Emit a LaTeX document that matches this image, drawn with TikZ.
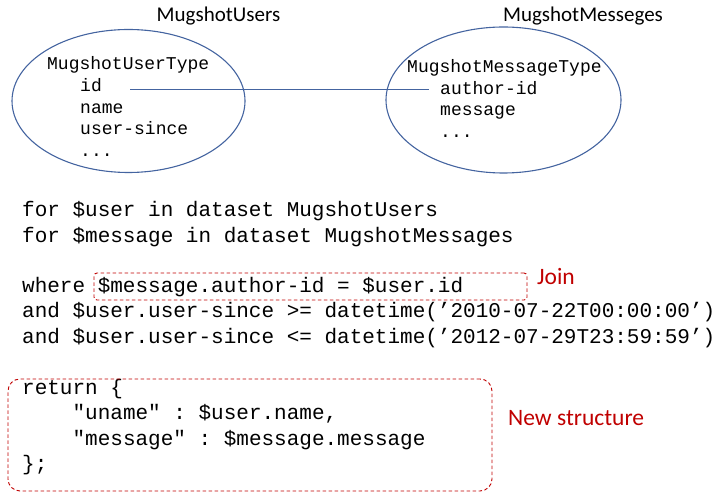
\documentclass[tikz,border=0pt]{standalone}
\usepackage{fontspec}
\setmainfont{Carlito}
\setmonofont{Liberation Mono}
\usetikzlibrary{shapes.geometric,calc}
\definecolor{ellblue}{RGB}{68,100,160}
\definecolor{darkred}{RGB}{192,0,0}
\begin{document}
\begin{tikzpicture}[x=1pt,y=-1pt,
  ell/.style={draw=ellblue,line width=1.1pt,ellipse,inner sep=0pt},
  title/.style={font=\fontsize{21}{25}\selectfont,anchor=base,inner sep=0pt},
  small/.style={font=\ttfamily\fontsize{18}{21}\selectfont,anchor=base west,inner sep=0pt},
  code/.style={font=\ttfamily\fontsize{21}{25}\selectfont,anchor=base west,inner sep=0pt},
  note/.style={font=\fontsize{23.5}{28}\selectfont,text=darkred,anchor=base west,inner sep=0pt},
  dbox/.style={draw=darkred,line width=0.9pt,dash pattern=on 3.5pt off 2.5pt,inner sep=0pt},
  link/.style={draw=ellblue,line width=1.1pt}]
\useasboundingbox (0,0) rectangle (724,502);
% ellipses
\node[ell,minimum width=233,minimum height=143] (users) at (128.5,101) {};
\node[ell,minimum width=235,minimum height=146] (msgs) at (503.5,100) {};
\node[title] (tu) at (218.5,22) {MugshotUsers};
\node[title] (tm) at (583,22) {MugshotMesseges};
% left contents
\node[small] (ut) at (47,70) {MugshotUserType};
\node[small] (id) at (80,92) {id};
\node[small] (nm) at (80,113.5) {name};
\node[small] (us) at (80,135) {user-since};
\node[small] (ud) at (80,156.5) {...};
% right contents
\node[small] (mt) at (407,73) {MugshotMessageType};
\node[small] (aid) at (440,94.5) {author-id};
\node[small] (mm) at (440,116) {message};
\node[small] (md) at (440,137.5) {...};
% connector
\draw[link] ($(id.base east)+(28,-2.5)$) -- ($(aid.base west)+(-11,-5)$);
% code
\node[code] (c1) at (22,217) {for \$user in dataset MugshotUsers};
\node[code] (c2) at (22,242.5) {for \$message in dataset MugshotMessages};
\node[code] (c3) at (22,292.5) {where \$message.author-id = \$user.id};
\node[code] (c4) at (22,318) {and \$user.user-since >= datetime(’2010-07-22T00:00:00’)};
\node[code] (c5) at (22,343.5) {and \$user.user-since <= datetime(’2012-07-29T23:59:59’)};
\node[code] (c6) at (22,394.5) {return \{};
\node[code] (c7) at (22,420) {\ \ \ \ "uname" : \$user.name,};
\node[code] (c8) at (22,445.5) {\ \ \ \ "message" : \$message.message};
\node[code] (c9) at (22,471) {\};};
% boxes
\node[dbox,rounded corners=3pt,minimum width=433,minimum height=27] (jbox) at (310.5,286.5) {};
\node[dbox,rounded corners=12pt,minimum width=484,minimum height=112] (rbox) at (250,435) {};
\node[note] (join) at (537,285) {Join};
\node[note] (ns) at (508,426) {New structure};
\end{tikzpicture}
\end{document}
